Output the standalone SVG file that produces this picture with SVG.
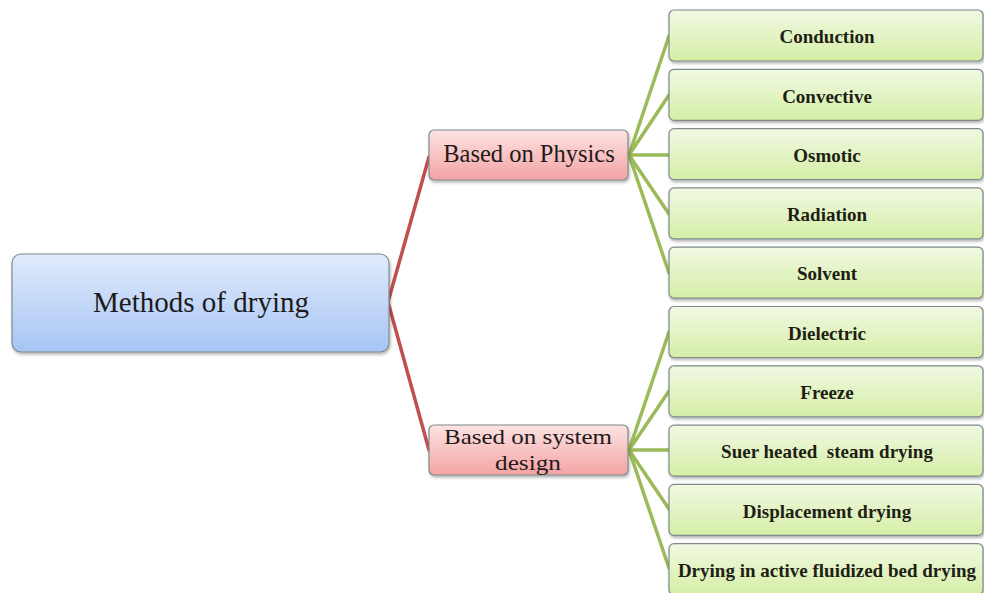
<svg xmlns="http://www.w3.org/2000/svg" width="984" height="593" viewBox="0 0 984 593">
<defs>
<linearGradient id="gBlue" x1="0" y1="0" x2="0" y2="1"><stop offset="0" stop-color="#e1ebfc"/><stop offset="1" stop-color="#a6c5f4"/></linearGradient>
<linearGradient id="gRed" x1="0" y1="0" x2="0" y2="1"><stop offset="0" stop-color="#fde3e3"/><stop offset="1" stop-color="#f4a3a3"/></linearGradient>
<linearGradient id="gGreen" x1="0" y1="0" x2="0" y2="1"><stop offset="0" stop-color="#f1f9e3"/><stop offset="1" stop-color="#d5eea6"/></linearGradient>
<filter id="sh" x="-5%" y="-10%" width="110%" height="130%"><feDropShadow dx="1" dy="2" stdDeviation="1.5" flood-color="#000" flood-opacity="0.3"/></filter>
</defs>
<style>
.box{stroke:#7f8a8a;stroke-width:1.2;filter:url(#sh)}
.blue{fill:url(#gBlue)}
.red{fill:url(#gRed)}
.green{fill:url(#gGreen)}
.rl{stroke:#c0504d;stroke-width:3.5;fill:none;stroke-linecap:round}
.gl{stroke:#9bbb59;stroke-width:3.5;fill:none;stroke-linecap:round}
.t{font-family:"Liberation Serif","Times New Roman",serif;fill:#1e1a1a;text-anchor:middle}
.tg{font-family:"Liberation Serif","Times New Roman",serif;font-weight:bold;font-size:19px;fill:#1e1e14;text-anchor:middle}
</style>
<rect width="984" height="593" fill="#ffffff"/>
<g id="connectors">
<path class="rl" d="M429,157 L388,302 L429,450"/>
<path class="gl" d="M629,155 L669,36 M629,155 L669,95 M629,155 L669,155 M629,155 L669,214 M629,155 L669,273"/>
<path class="gl" d="M629,450 L669,332 M629,450 L669,391 M629,450 L669,450 M629,450 L669,509 M629,450 L669,568"/>
</g>
<g id="root">
<rect class="box blue" x="12" y="254" width="377" height="98" rx="9"/>
<text class="t" x="201" y="312" font-size="29">Methods of drying</text>
</g>
<g id="physics">
<rect class="box red" x="429" y="130" width="199" height="50" rx="5"/>
<text class="t" x="529" y="162" font-size="24.5">Based on Physics</text>
</g>
<g id="system">
<rect class="box red" x="429" y="425" width="199" height="50" rx="5"/>
<text class="t" x="528" y="444" font-size="22" textLength="168" lengthAdjust="spacingAndGlyphs">Based on system</text>
<text class="t" x="528" y="470" font-size="22" textLength="66" lengthAdjust="spacingAndGlyphs">design</text>
</g>
<g id="conduction"><rect class="box green" x="669" y="10" width="314" height="51" rx="5"/><text class="tg" x="827" y="43">Conduction</text></g>
<g id="convective"><rect class="box green" x="669" y="69.3" width="314" height="51" rx="5"/><text class="tg" x="827" y="102.5">Convective</text></g>
<g id="osmotic"><rect class="box green" x="669" y="128.6" width="314" height="51" rx="5"/><text class="tg" x="827" y="161.8">Osmotic</text></g>
<g id="radiation"><rect class="box green" x="669" y="187.9" width="314" height="51" rx="5"/><text class="tg" x="827" y="221.1">Radiation</text></g>
<g id="solvent"><rect class="box green" x="669" y="247.2" width="314" height="51" rx="5"/><text class="tg" x="827" y="280.4">Solvent</text></g>
<g id="dielectric"><rect class="box green" x="669" y="306.5" width="314" height="51" rx="5"/><text class="tg" x="827" y="339.7">Dielectric</text></g>
<g id="freeze"><rect class="box green" x="669" y="365.8" width="314" height="51" rx="5"/><text class="tg" x="827" y="399">Freeze</text></g>
<g id="superheated"><rect class="box green" x="669" y="425.1" width="314" height="51" rx="5"/><text class="tg" x="827" y="458.3" xml:space="preserve">Suer heated  steam drying</text></g>
<g id="displacement"><rect class="box green" x="669" y="484.4" width="314" height="51" rx="5"/><text class="tg" x="827" y="517.6">Displacement drying</text></g>
<g id="fluidized"><rect class="box green" x="669" y="543.7" width="314" height="51" rx="5"/><text class="tg" x="827" y="576.9">Drying in active fluidized bed drying</text></g>
</svg>
